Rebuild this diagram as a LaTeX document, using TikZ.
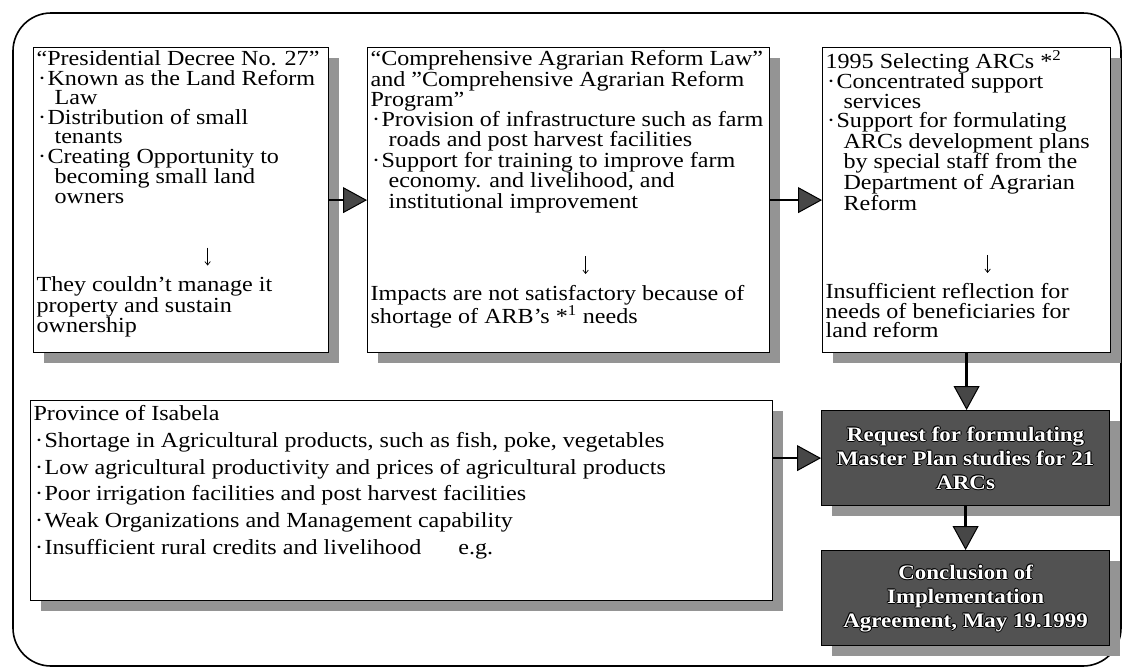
\documentclass[tikz,border=0pt]{standalone}
\usepackage{fontspec}
\setmainfont{Liberation Serif}[FakeStretch=1.12]
\usetikzlibrary{arrows.meta,shadows}

% bullet and hanging indent for list items
\newcommand{\itm}{\makebox[11pt][c]{·}}
\newcommand{\cnt}{\hspace*{18pt}}
% thin down arrow set inside a text block
\newcommand{\darrow}{\tikz[baseline=0pt]\draw[line width=0.7pt,-{Straight Barb[length=3.5pt,width=5.5pt]}] (0pt,17pt) -- (0pt,-1pt);}
\newcommand{\dn}[1]{\hspace*{#1}\makebox[0pt][c]{\darrow}}
% white lettering with a dark rim
\newcommand{\halo}[1]{\leavevmode
  \rlap{\color{black}\hspace*{-1pt}#1}\rlap{\color{black}\hspace*{1pt}#1}%
  \rlap{\color{black}\raisebox{1pt}{#1}}\rlap{\color{black}\raisebox{-1pt}{#1}}%
  \rlap{\color{black}\hspace*{-0.7pt}\raisebox{0.7pt}{#1}}\rlap{\color{black}\hspace*{0.7pt}\raisebox{-0.7pt}{#1}}%
  #1}
% fixed-size text block: width, height, left padding, top padding, text
\newcommand{\txt}[5]{\parbox[c][#2][t]{#1}{\raggedright\setlength{\leftskip}{#3}\vspace*{#4}#5}}

\tikzset{
  panel/.style={draw=black, line width=1.2pt, fill=white, inner sep=0pt, anchor=north west,
    drop shadow={shadow xshift=10pt, shadow yshift=-10pt, fill=black!42, opacity=1}},
  darkbox/.style={draw=black, line width=1.2pt, fill=black!68, text=white, inner sep=0pt,
    anchor=north west, align=center, minimum width=288pt, minimum height=95pt,
    font=\bfseries\fontsize{20.5pt}{24pt}\selectfont,
    drop shadow={shadow xshift=10pt, shadow yshift=-10pt, fill=black!42, opacity=1}},
  flow/.style={line width=2.6pt, draw=black,
    -{Triangle[length=24pt, width=26pt, fill=black!72, line width=1pt]}},
  frame/.style={draw=black, line width=1.6pt, rounded corners=38pt},
  body/.style={font=\fontsize{21.5pt}{19.5pt}\selectfont},
  wide/.style={font=\fontsize{21.5pt}{26.7pt}\selectfont}
}

\begin{document}
\begin{tikzpicture}[x=1pt, y=-1pt]
\useasboundingbox (0,0) rectangle (1125,670);

% outer rounded frame
\draw[frame] (13,13) rectangle (1121,666);

% upper row of panels
\node[panel, body] (b1) at (33,47) {\txt{295pt}{305pt}{3pt}{3pt}{%
“Presidential Decree No. 27”\\
\itm Known as the Land Reform\\
\cnt Law\\
\itm Distribution of small\\
\cnt tenants\\
\itm Creating Opportunity to\\
\cnt becoming small land\\
\cnt owners\\[42pt]
\dn{171pt}\\[7.5pt]
They couldn’t manage it\\
property and sustain\\
ownership}};

\node[panel, body] (b2) at (367,47) {\txt{402pt}{305pt}{3pt}{3pt}{%
“Comprehensive Agrarian Reform Law”\\
and ”Comprehensive Agrarian Reform\\
Program”\\
\itm Provision of infrastructure such as farm\\
\cnt roads and post harvest facilities\\
\itm Support for training to improve farm\\
\cnt economy. and livelihood, and\\
\cnt institutional improvement\\[42pt]
\dn{215pt}\\[7.5pt]
Impacts are not satisfactory because of\\
shortage of ARB’s *\textsuperscript{1} needs}};

\node[panel, body] (b3) at (822,47) {\txt{288pt}{305pt}{3pt}{3pt}{%
1995 Selecting ARCs *\textsuperscript{2}\\
\itm Concentrated support\\
\cnt services\\
\itm Support for formulating\\
\cnt ARCs development plans\\
\cnt by special staff from the\\
\cnt Department of Agrarian\\
\cnt Reform\\[42pt]
\dn{162pt}\\[7.5pt]
Insufficient reflection for\\
needs of beneficiaries for\\
land reform}};

% lower panel
\node[panel, wide] (prov) at (30,400) {\txt{742pt}{200pt}{3pt}{5pt}{%
Province of Isabela\\
\itm Shortage in Agricultural products, such as fish, poke, vegetables\\
\itm Low agricultural productivity and prices of agricultural products\\
\itm Poor irrigation facilities and post harvest facilities\\
\itm Weak Organizations and Management capability\\
\itm Insufficient rural credits and livelihood\hspace{37pt}e.g.}};

% dark result boxes
\node[darkbox] (d1) at (821,410) {\halo{Request for formulating}\\\halo{Master Plan studies for 21}\\\halo{ARCs}};
\node[darkbox] (d2) at (821,550) {\halo{Conclusion of}\\\halo{Implementation}\\\halo{Agreement, May 19.1999}};

% connectors
\draw[flow] (b1.east) -- (b2.west);
\draw[flow] (b2.east) -- (b3.west);
\draw[flow] (b3.south) -- (b3.south |- d1.north);
\draw[flow] (prov.east |- d1.west) -- (d1.west);
\draw[flow] (d1.south) -- (d2.north);
\end{tikzpicture}
\end{document}
